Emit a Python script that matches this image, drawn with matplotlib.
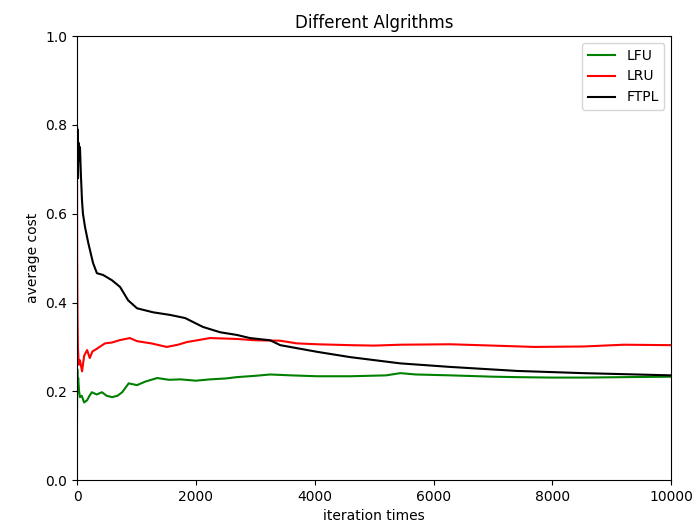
import matplotlib
matplotlib.use("Agg")
import matplotlib.pyplot as plt

# readings (iteration, average cost)
LFU_X = [0, 5, 10, 20, 35, 50, 80, 120, 170, 210, 250, 330, 420, 500, 590, 680, 760, 870,
         1010, 1150, 1350, 1550, 1740, 2000, 2240, 2500, 2690, 3000, 3250, 3600, 4040,
         4600, 5200, 5440, 5700, 6280, 7000, 7400, 8000, 8520, 9200, 10000]
LFU_Y = [0.13, 0.25, 0.21, 0.23, 0.20, 0.187, 0.19, 0.175, 0.18, 0.19, 0.198, 0.193,
         0.198, 0.19, 0.187, 0.19, 0.198, 0.218, 0.214, 0.222, 0.23, 0.226, 0.227, 0.224,
         0.227, 0.229, 0.232, 0.235, 0.238, 0.236, 0.234, 0.234, 0.236, 0.241, 0.238,
         0.236, 0.233, 0.232, 0.231, 0.231, 0.232, 0.233]

LRU_X = [0, 3, 8, 15, 30, 50, 85, 120, 170, 215, 260, 300, 380, 470, 590, 710, 890,
         1010, 1250, 1510, 1700, 1850, 2240, 2690, 3000, 3420, 3700, 4040, 4600, 5000,
         5440, 6280, 7000, 7700, 8520, 9200, 10000]
LRU_Y = [0.80, 0.50, 0.38, 0.30, 0.26, 0.27, 0.245, 0.28, 0.293, 0.275, 0.29, 0.293,
         0.30, 0.308, 0.31, 0.315, 0.32, 0.313, 0.308, 0.30, 0.305, 0.311, 0.32, 0.318,
         0.315, 0.314, 0.308, 0.306, 0.304, 0.303, 0.305, 0.306, 0.303, 0.300, 0.301,
         0.305, 0.304]

FTPL_X = [0, 5, 10, 17, 25, 35, 50, 65, 84, 100, 135, 190, 270, 335, 440, 590, 725,
          860, 1010, 1280, 1570, 1820, 2120, 2410, 2690, 2910, 3250, 3420, 4040, 4600,
          5440, 6280, 7400, 8520, 10000]
FTPL_Y = [0.795, 0.70, 0.79, 0.68, 0.76, 0.72, 0.75, 0.69, 0.63, 0.60, 0.57, 0.534,
          0.489, 0.466, 0.462, 0.45, 0.435, 0.405, 0.387, 0.378, 0.372, 0.365, 0.345,
          0.333, 0.327, 0.32, 0.315, 0.304, 0.289, 0.277, 0.263, 0.255, 0.246, 0.241,
          0.236]

fig = plt.figure(figsize=(7, 5.3), dpi=100)
ax = fig.add_axes([0.11, 0.094, 0.849, 0.838])

ax.plot(LFU_X, LFU_Y, color="green", label="LFU")
ax.plot(LRU_X, LRU_Y, color="red", label="LRU")
ax.plot(FTPL_X, FTPL_Y, color="black", label="FTPL")

ax.set_xlim(0, 10000)
ax.set_ylim(0, 1.0)
ax.set_title("Different Algrithms")
ax.set_xlabel("iteration times")
ax.set_ylabel("average cost")
ax.legend(loc="upper right")

fig.savefig("out.png", dpi=100)
